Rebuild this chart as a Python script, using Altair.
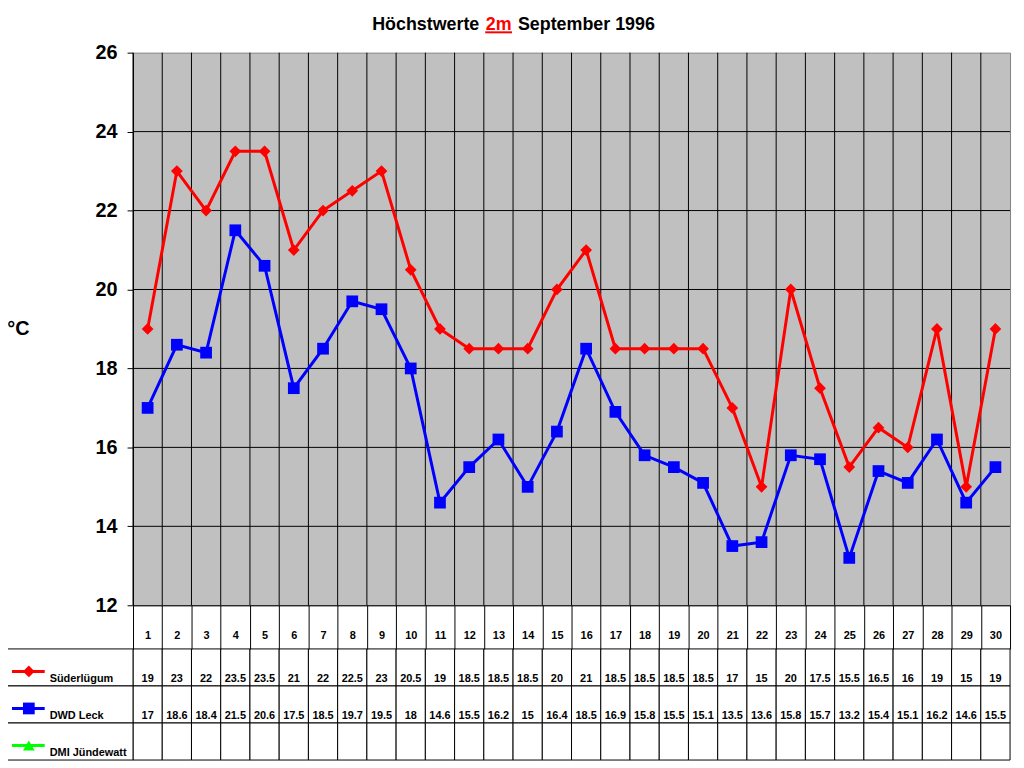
import altair as alt
import pandas as pd

# Tageshöchstwerte 2 m, September 1996
days = list(range(1, 31))
suederluegum = [19, 23, 22, 23.5, 23.5, 21, 22, 22.5, 23, 20.5, 19, 18.5, 18.5, 18.5, 20,
                21, 18.5, 18.5, 18.5, 18.5, 17, 15, 20, 17.5, 15.5, 16.5, 16, 19, 15, 19]
dwd_leck = [17, 18.6, 18.4, 21.5, 20.6, 17.5, 18.5, 19.7, 19.5, 18, 14.6, 15.5, 16.2, 15, 16.4,
            18.5, 16.9, 15.8, 15.5, 15.1, 13.5, 13.6, 15.8, 15.7, 13.2, 15.4, 15.1, 16.2, 14.6, 15.5]
dmi_juendewatt = [None] * 30  # keine Werte

series_names = ["Süderlügum", "DWD Leck", "DMI Jündewatt"]
series_colors = ["#FF0000", "#0000FF", "#00FF00"]
series_shapes = ["diamond", "square", "triangle-up"]
y_ticks = [12, 14, 16, 18, 20, 22, 24, 26]
grid_values = [14, 16, 18, 20, 22, 24]

W, H = 884, 557
FONT = "Liberation Sans"

rows = []
for name, vals in zip(series_names, [suederluegum, dwd_leck, dmi_juendewatt]):
    for d, v in zip(days, vals):
        rows.append({"day": d, "series": name, "value": v,
                     "label": "" if v is None else f"{v:g}"})
df = pd.DataFrame(rows)
lines = df.dropna(subset=["value"])
labels_df = pd.DataFrame({"series": series_names})
days_df = pd.DataFrame({"day": days})
grid_df = pd.DataFrame({"value": grid_values})

color_scale = alt.Scale(domain=series_names, range=series_colors)
shape_scale = alt.Scale(domain=series_names, range=series_shapes)

x_scale = alt.Scale(paddingInner=0, paddingOuter=0)
x_enc = alt.X(
    "day:O",
    scale=x_scale,
    axis=alt.Axis(
        title=None, labelAngle=0, labelFont=FONT, labelFontSize=11, labelFontWeight="bold",
        labelColor="black", labelBaseline="alphabetic", labelPadding=-11,
        tickBand="extent", tickSize=44, tickColor="black", domainColor="black", grid=False,
    ),
)
y_scale = alt.Scale(domain=[12, 26], nice=False, zero=False)
y_enc = alt.Y(
    "value:Q",
    scale=y_scale,
    axis=alt.Axis(
        values=y_ticks, title="°C", titleAngle=0, titleX=-116, titleY=278,
        titleAlign="center", titleBaseline="middle", titleFont=FONT, titleFontSize=20,
        titleFontWeight="bold", titleColor="black",
        labelFont=FONT, labelFontSize=20, labelFontWeight="bold", labelColor="black",
        labelPadding=10, tickSize=6, tickColor="black", domainColor="black", grid=False,
    ),
)
color_enc = alt.Color("series:N", scale=color_scale, legend=None)
shape_enc = alt.Shape("series:N", scale=shape_scale, legend=None)

# Gitternetz
hgrid = alt.Chart(grid_df).mark_rule(color="black", strokeWidth=1).encode(
    y=alt.Y("value:Q", scale=y_scale)
)
vgrid = alt.Chart(days_df).mark_rule(color="black", strokeWidth=1).encode(
    x=alt.X("day:O", scale=x_scale, bandPosition=0)
)

line = alt.Chart(lines).mark_line(strokeWidth=3).encode(x=x_enc, y=y_enc, color=color_enc)
points = alt.Chart(lines).mark_point(filled=True, size=140, opacity=1).encode(
    x=x_enc, y=y_enc, color=color_enc, shape=shape_enc
)
plot = alt.layer(hgrid, vgrid, line, points)

# Datentabelle unter dem Diagramm
row_y = alt.Y(
    "series:N",
    scale=alt.Scale(domain=series_names, range=[H + 44, H + 156], paddingInner=0, paddingOuter=0),
    axis=None,
)
cells = alt.Chart(df).mark_rect(fill="white", stroke="black", strokeWidth=1).encode(
    x=x_enc, y=row_y
)
cell_text = alt.Chart(df).mark_text(
    font=FONT, fontSize=11, fontWeight="bold", color="black", baseline="alphabetic", dy=15
).encode(x=x_enc, y=row_y, text="label:N")

label_cells = alt.Chart(labels_df).mark_rect(fill="white", stroke="black", strokeWidth=1).encode(
    x=alt.value(-127), x2=alt.value(0), y=row_y
)
label_text = alt.Chart(labels_df).mark_text(
    font=FONT, fontSize=11, fontWeight="bold", color="black", align="left",
    baseline="alphabetic", dy=15
).encode(x=alt.value(-84), y=row_y, text="series:N")
key_line = alt.Chart(labels_df).mark_rule(strokeWidth=3, yOffset=4).encode(
    x=alt.value(-122), x2=alt.value(-89), y=row_y, color=color_enc
)
key_point = alt.Chart(labels_df).mark_point(filled=True, size=140, opacity=1, yOffset=4).encode(
    x=alt.value(-105), y=row_y, color=color_enc, shape=shape_enc
)

# Titel mit rot unterstrichenem "2m"
title_style = dict(font=FONT, fontSize=18, fontWeight="bold", baseline="alphabetic")
t1 = alt.Chart(pd.DataFrame({"t": ["Höchstwerte"]})).mark_text(
    align="right", color="black", **title_style
).encode(x=alt.value(349), y=alt.value(-23), text="t:N")
t2 = alt.Chart(pd.DataFrame({"t": ["2m"]})).mark_text(
    align="center", color="#FF0000", **title_style
).encode(x=alt.value(368.5), y=alt.value(-23), text="t:N")
t3 = alt.Chart(pd.DataFrame({"t": ["September 1996"]})).mark_text(
    align="left", color="black", **title_style
).encode(x=alt.value(388), y=alt.value(-23), text="t:N")
underline = alt.Chart(pd.DataFrame({"t": ["2m"]})).mark_rule(color="#FF0000", strokeWidth=2).encode(
    x=alt.value(355), x2=alt.value(382), y=alt.value(-20.5)
)

chart = alt.layer(
    cells, cell_text, label_cells, label_text, key_line, key_point,
    plot, t1, t2, t3, underline,
).resolve_scale(
    y="independent", color="shared", shape="shared"
).properties(
    width=W, height=H,
    autosize=alt.AutoSizeParams(type="none"),
    padding={"left": 126, "top": 42, "right": 6, "bottom": 160},
    background="white",
).configure_view(
    fill="#C0C0C0", stroke="#808080", strokeWidth=1
)

chart.save("out.html", embed_options={"renderer": "svg", "actions": False})
